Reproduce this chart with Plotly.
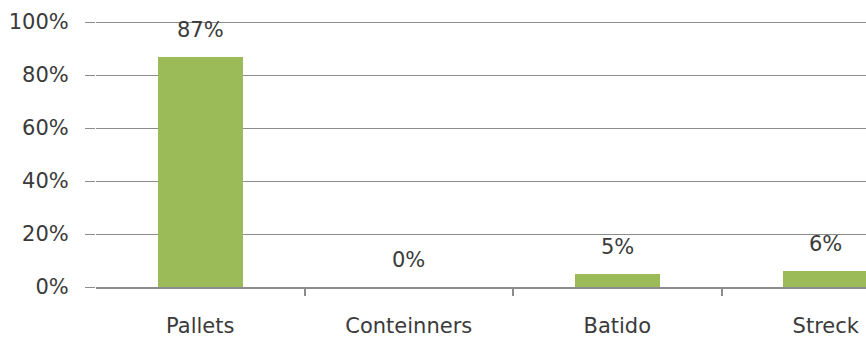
import plotly.graph_objects as go

categories = ["Pallets", "Conteinners", "Batido", "Streck"]
shares = [87, 0, 5, 6]
y_ticks = [0, 20, 40, 60, 80, 100]
y_tick_labels = ["0%", "20%", "40%", "60%", "80%", "100%"]

bar_color = "#9BBB59"
grid_color = "#8c8c8c"
text_color = "#3a3a3a"
font_family = "'DejaVu Sans', sans-serif"
font_size = 21

positions = list(range(len(categories)))

fig = go.Figure()
fig.add_trace(go.Bar(
    x=positions,
    y=shares,
    width=0.41,
    marker=dict(color=bar_color, line=dict(width=0)),
    hoverinfo="skip",
))

# value labels sit a fixed distance above each bar
for pos, val in zip(positions, shares):
    fig.add_annotation(
        x=pos, y=val, text=f"{val}%", showarrow=False,
        yshift=27, yanchor="middle",
        font=dict(family=font_family, size=font_size, color=text_color),
    )

fig.update_layout(
    width=866, height=338,
    margin=dict(l=96, r=0, t=21, b=47),
    paper_bgcolor="white", plot_bgcolor="white",
    showlegend=False,
    bargap=0,
    xaxis=dict(
        range=[-0.5, -0.5 + (866 - 96) / 208.5],
        tickmode="array",
        tickvals=positions,
        ticktext=categories,
        ticks="outside", ticklen=0,
        ticklabelstandoff=19,
        showgrid=False, zeroline=False,
        showline=True, linecolor=grid_color, linewidth=1.5,
        tickfont=dict(family=font_family, size=font_size, color=text_color),
        minor=dict(
            tickmode="array",
            tickvals=[p + 0.5 for p in positions[:-1]],
            ticks="outside", ticklen=7, tickcolor=grid_color, tickwidth=1.5,
            showgrid=False,
        ),
        fixedrange=True,
    ),
    yaxis=dict(
        range=[0, 100.4],
        tickmode="array",
        tickvals=y_ticks,
        ticktext=y_tick_labels,
        ticks="outside", ticklen=10, tickcolor=grid_color, tickwidth=1,
        ticklabelstandoff=12,
        showgrid=True, gridcolor=grid_color, gridwidth=1,
        zeroline=False, showline=False,
        tickfont=dict(family=font_family, size=font_size, color=text_color),
        fixedrange=True,
    ),
)

fig.write_html("out.html", config={"displayModeBar": False})
